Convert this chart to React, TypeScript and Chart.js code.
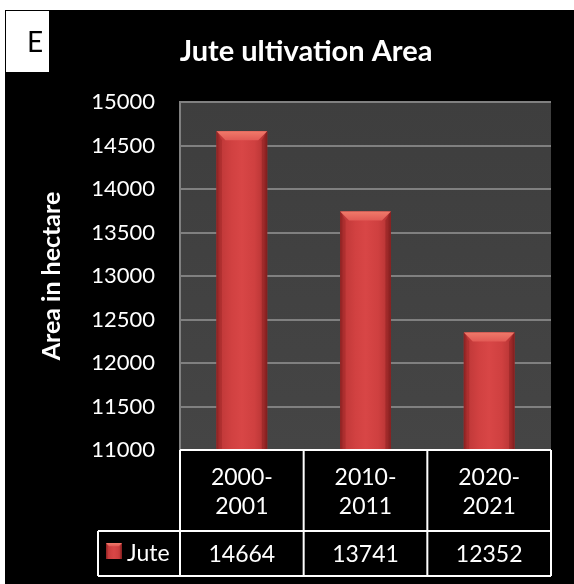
import React, { useEffect, useRef } from "react";
import { Chart, registerables } from "chart.js";

Chart.register(...registerables);

const categories: string[][] = [["2000-", "2001"], ["2010-", "2011"], ["2020-", "2021"]];
const seriesName = "Jute";
const juteValues: number[] = [14664, 13741, 12352];
const yMin = 11000;
const yMax = 15000;
const yStep = 500;
const chartTitle = "Jute ultivation Area";
const yAxisTitle = "Area in hectare";
const panelLabel = "E";

const FONT = "Lato, 'Open Sans', sans-serif";

function paintBar(ctx: CanvasRenderingContext2D, left: number, top: number, w: number, bottom: number) {
  ctx.save();
  const g = ctx.createLinearGradient(left, 0, left + w, 0);
  g.addColorStop(0, "#8f2626");
  g.addColorStop(0.07, "#bf3838");
  g.addColorStop(0.3, "#d14141");
  g.addColorStop(0.5, "#d84646");
  g.addColorStop(0.75, "#cf4040");
  g.addColorStop(0.93, "#b83535");
  g.addColorStop(1, "#8a2424");
  ctx.fillStyle = g;
  ctx.fillRect(left, top, w, bottom - top);
  const bev = Math.min(9, w * 0.2);
  ctx.beginPath();
  ctx.moveTo(left, top);
  ctx.lineTo(left + w, top);
  ctx.lineTo(left + w - bev, top + bev);
  ctx.lineTo(left + bev, top + bev);
  ctx.closePath();
  const tg = ctx.createLinearGradient(0, top, 0, top + bev);
  tg.addColorStop(0, "#f07a6a");
  tg.addColorStop(1, "#e25a55");
  ctx.fillStyle = tg;
  ctx.fill();
  ctx.beginPath();
  ctx.moveTo(left, top);
  ctx.lineTo(left + bev * 0.6, top + bev);
  ctx.lineTo(left + bev * 0.6, bottom);
  ctx.lineTo(left, bottom);
  ctx.closePath();
  ctx.fillStyle = "rgba(120,20,20,0.25)";
  ctx.fill();
  ctx.beginPath();
  ctx.moveTo(left + w, top);
  ctx.lineTo(left + w - bev * 0.6, top + bev);
  ctx.lineTo(left + w - bev * 0.6, bottom);
  ctx.lineTo(left + w, bottom);
  ctx.closePath();
  ctx.fillStyle = "rgba(100,15,15,0.3)";
  ctx.fill();
  ctx.restore();
}

const decorPlugin = {
  id: "decor",
  beforeDraw(chart: any) {
    const { ctx, width, height, chartArea } = chart;
    ctx.save();
    ctx.fillStyle = "#ffffff";
    ctx.fillRect(0, 0, width, height);
    ctx.fillStyle = "#000000";
    ctx.fillRect(5, 10, width - 5, height - 10);
    const bg = ctx.createLinearGradient(0, chartArea.top, 0, chartArea.bottom);
    bg.addColorStop(0, "#3e3e3e");
    bg.addColorStop(1, "#454545");
    ctx.fillStyle = bg;
    ctx.fillRect(chartArea.left, chartArea.top, chartArea.right - chartArea.left, chartArea.bottom - chartArea.top);
    ctx.fillStyle = "#ffffff";
    ctx.fillRect(6, 11, 43, 61);
    ctx.fillStyle = "#000000";
    ctx.font = `28px ${FONT}`;
    ctx.textAlign = "center";
    ctx.textBaseline = "alphabetic";
    ctx.fillText(panelLabel, 35, 52);
    ctx.fillStyle = "#ffffff";
    ctx.font = `bold 29px ${FONT}`;
    ctx.fillText(chartTitle, 306, 61);
    ctx.restore();
  },
  afterDatasetsDraw(chart: any) {
    const { ctx, chartArea } = chart;
    const meta = chart.getDatasetMeta(0);
    meta.data.forEach((bar: any) => {
      const p = bar.getProps(["x", "y", "base", "width"], true);
      const bottom = Math.min(p.base, chartArea.bottom);
      paintBar(ctx, p.x - p.width / 2, p.y, p.width, bottom);
    });
  },
  afterDraw(chart: any) {
    const { ctx, chartArea } = chart;
    const xs = chart.scales.x;
    const n = categories.length;
    const catW = (chartArea.right - chartArea.left) / n;
    const rowTop = chartArea.bottom;
    const rowMid = 531;
    const rowBot = 576;
    const legendLeft = 98;
    ctx.save();
    ctx.strokeStyle = "#ffffff";
    ctx.lineWidth = 2;
    ctx.beginPath();
    ctx.moveTo(chartArea.left, rowTop);
    ctx.lineTo(chartArea.right, rowTop);
    ctx.moveTo(legendLeft, rowMid);
    ctx.lineTo(chartArea.right, rowMid);
    ctx.moveTo(legendLeft, rowBot);
    ctx.lineTo(chartArea.right, rowBot);
    ctx.moveTo(legendLeft, rowMid);
    ctx.lineTo(legendLeft, rowBot);
    for (let i = 0; i <= n; i++) {
      const x = i < n ? xs.getPixelForValue(i) - catW / 2 : xs.getPixelForValue(n - 1) + catW / 2;
      ctx.moveTo(x, rowTop);
      ctx.lineTo(x, rowBot);
    }
    ctx.stroke();
    paintBar(ctx, 106, 543, 16, 559);
    ctx.fillStyle = "#ffffff";
    ctx.font = `23px ${FONT}`;
    ctx.textAlign = "center";
    ctx.textBaseline = "alphabetic";
    categories.forEach((lines, i) => {
      const cx = xs.getPixelForValue(i);
      lines.forEach((ln, j) => ctx.fillText(ln, cx, 485 + j * 29));
    });
    ctx.textAlign = "left";
    ctx.fillText(seriesName, 127, 561);
    ctx.textAlign = "center";
    juteValues.forEach((v, i) => {
      ctx.fillText(String(v), xs.getPixelForValue(i), 562);
    });
    ctx.restore();
  },
};

export default function App() {
  const ref = useRef<HTMLCanvasElement | null>(null);
  useEffect(() => {
    if (!ref.current) return;
    const chart = new Chart(ref.current, {
      type: "bar",
      data: {
        labels: categories.map((c) => c.join("")),
        datasets: [
          {
            label: seriesName,
            data: juteValues,
            backgroundColor: "#cc3f3f",
            borderWidth: 0,
            categoryPercentage: 1,
            barPercentage: 0.41,
            base: yMin,
          },
        ],
      },
      options: {
        responsive: false,
        animation: false,
        devicePixelRatio: 1,
        layout: { padding: { left: 5, top: 102, right: 23, bottom: 8 } },
        plugins: {
          legend: { display: false },
          title: { display: false },
          tooltip: { enabled: false },
        },
        scales: {
          x: {
            grid: { display: false, drawTicks: false },
            border: { display: false },
            ticks: { display: false },
            afterFit(scale: any) {
              scale.height = 126;
            },
          },
          y: {
            min: yMin,
            max: yMax,
            grid: { color: "#808080", lineWidth: 2, drawTicks: false },
            border: { display: true, color: "#808080", width: 2 },
            ticks: {
              stepSize: yStep,
              color: "#ffffff",
              font: { family: FONT, size: 22 },
              padding: 25,
              callback: (v: any) => String(v),
            },
            title: {
              display: true,
              text: yAxisTitle,
              color: "#ffffff",
              font: { family: FONT, size: 25, weight: "bold", lineHeight: 1.2 },
              padding: { top: 32, bottom: 0 },
            },
            afterFit(scale: any) {
              scale.width = 175;
            },
          },
        },
      },
      plugins: [decorPlugin],
    } as any);
    return () => chart.destroy();
  }, []);
  return (
    <div style={{ position: "absolute", left: 0, top: 0, width: 574, height: 584 }}>
      <canvas ref={ref} width={574} height={584} style={{ width: 574, height: 584, display: "block" }} />
    </div>
  );
}
